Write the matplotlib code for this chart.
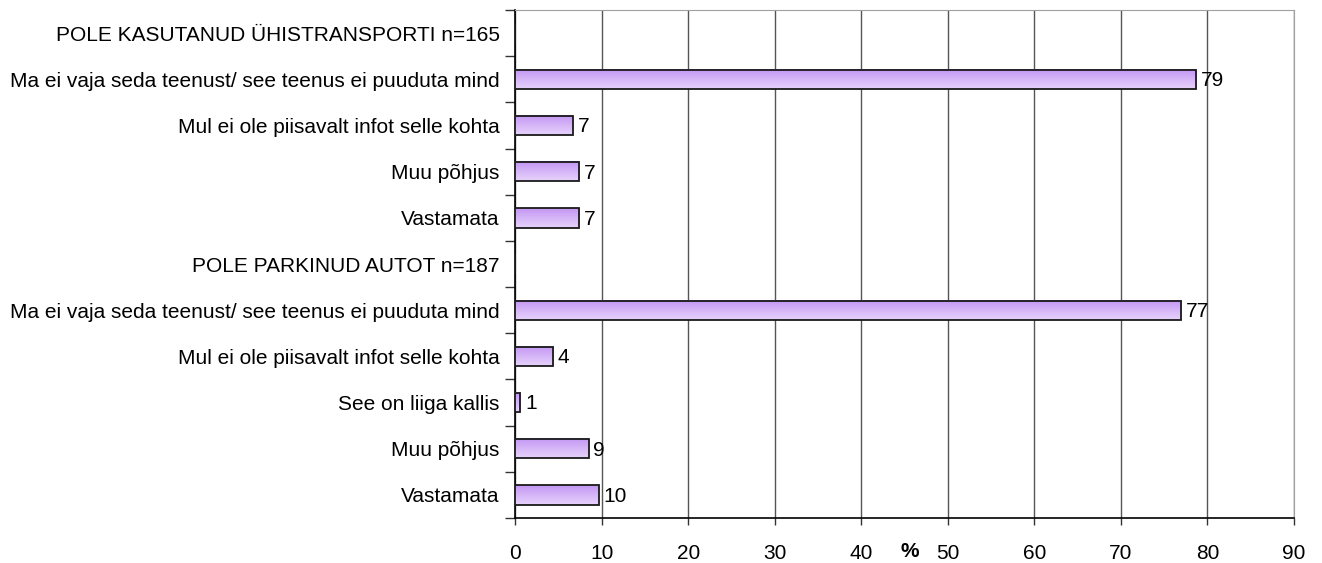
import matplotlib.pyplot as plt
import numpy as np

plt.rcParams['font.family'] = ['Liberation Sans', 'DejaVu Sans']

# kategooriad (ülalt alla), pealkirjaridadel väärtus puudub
kategooriad = ['POLE KASUTANUD ÜHISTRANSPORTI n=165',
               'Ma ei vaja seda teenust/ see teenus ei puuduta mind',
               'Mul ei ole piisavalt infot selle kohta',
               'Muu põhjus',
               'Vastamata',
               'POLE PARKINUD AUTOT n=187',
               'Ma ei vaja seda teenust/ see teenus ei puuduta mind',
               'Mul ei ole piisavalt infot selle kohta',
               'See on liiga kallis',
               'Muu põhjus',
               'Vastamata']
vaartused = [np.nan, 78.7, 6.7, 7.4, 7.4, np.nan, 77.0, 4.4, 0.6, 8.5, 9.7]
sildid = ['', '79', '7', '7', '7', '', '77', '4', '1', '9', '10']

fs = 15

fig = plt.figure(figsize=(13.22, 5.63), dpi=100)
ax = fig.add_axes([0.3896, 0.080, 0.5892, 0.902])

y = np.arange(len(kategooriad))
v = np.nan_to_num(np.array(vaartused, dtype=float))
bars = ax.barh(y, v, height=0.42, color='none', edgecolor='#1a1a1a', lw=1.3, zorder=4)

# gradient täide
grad = np.linspace(0, 1, 50).reshape(-1, 1)
cmap = plt.matplotlib.colors.LinearSegmentedColormap.from_list('lill', ['#c497f3', '#e6d2fb'])
for b, val in zip(bars, vaartused):
    if np.isnan(val):
        continue
    x0, y0 = b.get_x(), b.get_y()
    w, h = b.get_width(), b.get_height()
    ax.imshow(grad, cmap=cmap, aspect='auto', extent=(x0, x0 + w, y0 + h, y0),
              zorder=3, interpolation='bilinear')

for i, (val, s) in enumerate(zip(vaartused, sildid)):
    if np.isnan(val):
        continue
    ax.text(val + 0.55, i + 0.03, s, va='center', ha='left', fontsize=fs, zorder=5)

ax.set_xlim(0, 90)
ax.set_ylim(len(kategooriad) - 0.5, -0.5)
ax.set_xticks(np.arange(0, 91, 10))
ax.tick_params(axis='x', labelsize=fs, length=5, width=1, pad=14, color='#333333')
ax.set_yticks(y)
ax.set_yticklabels(kategooriad, fontsize=fs)
ax.tick_params(axis='y', which='major', length=0, pad=11)
ax.set_yticks(np.arange(-0.5, len(kategooriad), 1), minor=True)
ax.tick_params(axis='y', which='minor', length=7, width=1, color='#333333')

ax.grid(axis='x', color='#555555', lw=1.0, zorder=1)
for s in ['top', 'right']:
    ax.spines[s].set_color('#a0a0a0')
for s in ['left', 'bottom']:
    ax.spines[s].set_color('black')
    ax.spines[s].set_linewidth(1.2)

ax.text(45.6, -0.067, '%', transform=ax.get_xaxis_transform(), ha='center', va='center',
        fontsize=fs, fontweight='bold')

fig.savefig('out.png', dpi=100)
